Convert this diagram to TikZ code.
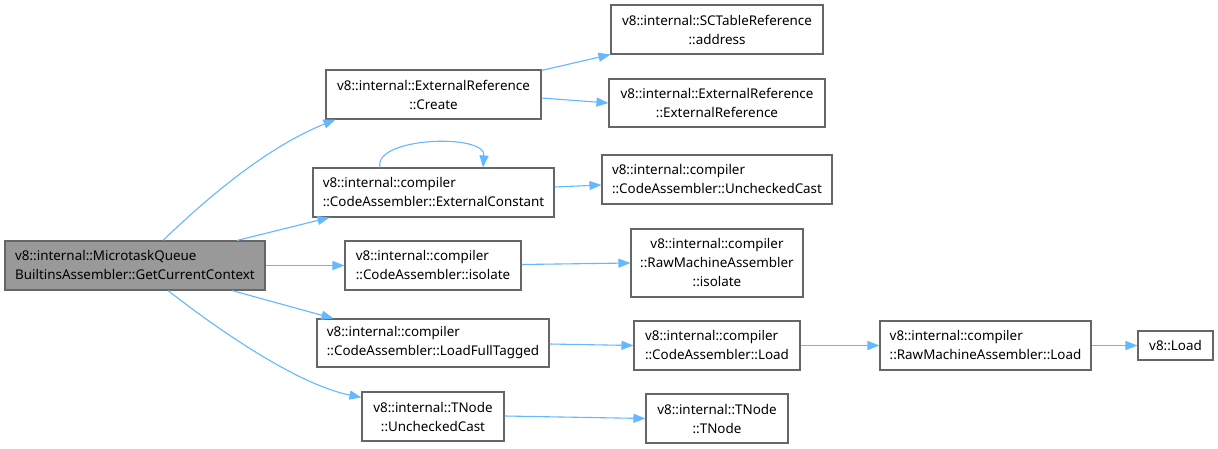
\documentclass[tikz,border=0pt]{standalone}
\usepackage{fontspec}
\setmainfont{Noto Sans}
\usetikzlibrary{arrows.meta}
\definecolor{edgeblue}{HTML}{63B8FF}
\definecolor{bordergray}{HTML}{666666}
\definecolor{mainfill}{HTML}{999999}
\begin{document}
\begin{tikzpicture}[x=1pt,y=-1pt,
  box/.style={draw=bordergray, line width=1.1pt, fill=white, inner sep=0pt,
    font=\fontsize{13.4}{19}\selectfont, text=black},
  mainbox/.style={box, fill=mainfill},
  edge/.style={draw=edgeblue, line width=1.1pt, -{Triangle[length=12pt,width=9pt]}}]
\useasboundingbox (0,0) rectangle (1218,449);
\fill[white] (0,0) rectangle (1218,449);

\node[mainbox, minimum width=260pt, minimum height=49pt, align=left] (main) at (135,265.5)
  {v8::internal::MicrotaskQueue\\BuiltinsAssembler::GetCurrentContext};

\node[box, minimum width=215pt, minimum height=49pt, align=center] (create) at (433.5,94.5)
  {v8::internal::ExternalReference\\::Create};
\node[box, minimum width=212pt, minimum height=49pt, align=center] (sct) at (717,29.5)
  {v8::internal::SCTableReference\\::address};
\node[box, minimum width=216pt, minimum height=48pt, align=center] (extref) at (717,103)
  {v8::internal::ExternalReference\\::ExternalReference};
\node[box, minimum width=241pt, minimum height=49pt, align=left] (extconst) at (433.5,192.5)
  {v8::internal::compiler\\::CodeAssembler::ExternalConstant};
\node[box, minimum width=230pt, minimum height=49pt, align=left] (uccast) at (717,179.5)
  {v8::internal::compiler\\::CodeAssembler::UncheckedCast};
\node[box, minimum width=176pt, minimum height=49pt, align=left] (isolate) at (433,265.5)
  {v8::internal::compiler\\::CodeAssembler::isolate};
\node[box, minimum width=172pt, minimum height=68pt, align=center] (rmaiso) at (717,263)
  {v8::internal::compiler\\::RawMachineAssembler\\::isolate};
\node[box, minimum width=232pt, minimum height=48pt, align=left] (loadft) at (433,343)
  {v8::internal::compiler\\::CodeAssembler::LoadFullTagged};
\node[box, minimum width=166pt, minimum height=49pt, align=left] (caload) at (717,345.5)
  {v8::internal::compiler\\::CodeAssembler::Load};
\node[box, minimum width=211pt, minimum height=49pt, align=left] (rmaload) at (985.5,345.5)
  {v8::internal::compiler\\::RawMachineAssembler::Load};
\node[box, minimum width=75pt, minimum height=29pt, align=center] (v8load) at (1175.5,345.5)
  {v8::Load};
\node[box, minimum width=142pt, minimum height=49pt, align=center] (tnuc) at (433,416.5)
  {v8::internal::TNode\\::UncheckedCast};
\node[box, minimum width=142pt, minimum height=49pt, align=center] (tnode) at (717,418.5)
  {v8::internal::TNode\\::TNode};

% edges from main
\draw[edge] ([xshift=28pt]main.north) .. controls (205,200) and (265,148) .. ([xshift=10pt]create.south west);
\draw[edge] ([xshift=102pt]main.north) -- ([xshift=17pt]extconst.south west);
\draw[edge] (main.east) -- (isolate.west);
\draw[edge] ([xshift=97pt]main.south) -- ([xshift=17pt]loadft.north west);
\draw[edge] ([xshift=33pt]main.south) .. controls (225,335) and (300,385) .. ([yshift=-6pt]tnuc.north west);

% others
\draw[edge] ([yshift=-1pt]create.north east) -- (sct.south west);
\draw[edge] ([yshift=-3.5pt]create.east) -- (extref.west);
\draw[edge] ([xshift=-53.5pt]extconst.north) .. controls (373,137) and (486,133) .. ([xshift=49.5pt]extconst.north);
\draw[edge] ([yshift=5.5pt]extconst.east) -- ([yshift=-5.5pt]uccast.west);
\draw[edge] ([yshift=1pt]isolate.east) -- (rmaiso.west);
\draw[edge] ([yshift=-1pt]loadft.east) -- (caload.west);
\draw[edge] (caload.east) -- (rmaload.west);
\draw[edge] (rmaload.east) -- (v8load.west);
\draw[edge] ([yshift=0.5pt]tnuc.east) -- (tnode.west);
\end{tikzpicture}
\end{document}
